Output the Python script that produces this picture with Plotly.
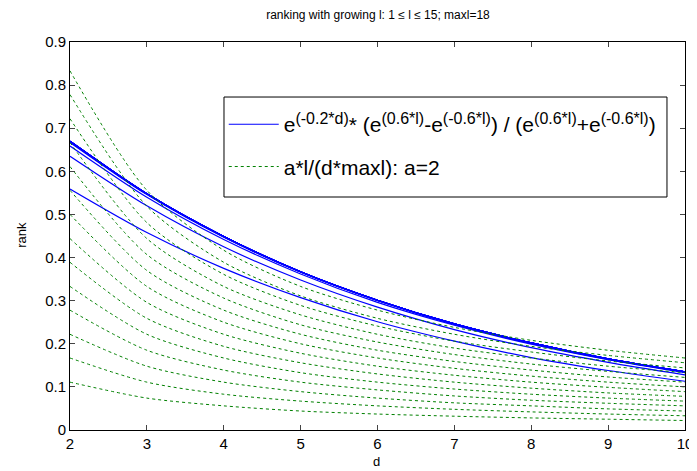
import plotly.graph_objects as go

d_values = [2, 3, 4, 5, 6, 7, 8, 9, 10]

# blue curves (solid), one list per l = 2..15 (l >= 6 are practically identical)
blue_l2 = [0.559, 0.458, 0.375, 0.307, 0.251, 0.206, 0.168, 0.138, 0.113]
blue_l3 = [0.635, 0.520, 0.425, 0.348, 0.285, 0.233, 0.191, 0.157, 0.128]
blue_l4 = [0.659, 0.540, 0.442, 0.362, 0.296, 0.243, 0.199, 0.163, 0.133]
blue_l5 = [0.667, 0.546, 0.447, 0.366, 0.300, 0.245, 0.201, 0.164, 0.135]
blue_l6_15 = [0.670, 0.548, 0.449, 0.367, 0.301, 0.246, 0.202, 0.165, 0.135]

# green curves (dashed), l = 2..15
green_l2 = [0.111, 0.074, 0.056, 0.044, 0.037, 0.032, 0.028, 0.025, 0.022]
green_l3 = [0.167, 0.111, 0.083, 0.067, 0.056, 0.048, 0.042, 0.037, 0.033]
green_l4 = [0.222, 0.148, 0.111, 0.089, 0.074, 0.063, 0.056, 0.049, 0.044]
green_l5 = [0.278, 0.185, 0.139, 0.111, 0.093, 0.079, 0.069, 0.062, 0.056]
green_l6 = [0.333, 0.222, 0.167, 0.133, 0.111, 0.095, 0.083, 0.074, 0.067]
green_l7 = [0.389, 0.259, 0.194, 0.156, 0.130, 0.111, 0.097, 0.086, 0.078]
green_l8 = [0.444, 0.296, 0.222, 0.178, 0.148, 0.127, 0.111, 0.099, 0.089]
green_l9 = [0.500, 0.333, 0.250, 0.200, 0.167, 0.143, 0.125, 0.111, 0.100]
green_l10 = [0.556, 0.370, 0.278, 0.222, 0.185, 0.159, 0.139, 0.123, 0.111]
green_l11 = [0.611, 0.407, 0.306, 0.244, 0.204, 0.175, 0.153, 0.136, 0.122]
green_l12 = [0.667, 0.444, 0.333, 0.267, 0.222, 0.190, 0.167, 0.148, 0.133]
green_l13 = [0.722, 0.481, 0.361, 0.289, 0.241, 0.206, 0.181, 0.160, 0.144]
green_l14 = [0.778, 0.519, 0.389, 0.311, 0.259, 0.222, 0.194, 0.173, 0.156]
green_l15 = [0.833, 0.556, 0.417, 0.333, 0.278, 0.238, 0.208, 0.185, 0.167]

blue_series = [blue_l2, blue_l3, blue_l4, blue_l5] + [blue_l6_15] * 10
green_series = [green_l2, green_l3, green_l4, green_l5, green_l6, green_l7, green_l8,
                green_l9, green_l10, green_l11, green_l12, green_l13, green_l14, green_l15]

x_ticks = [2, 3, 4, 5, 6, 7, 8, 9, 10]
y_ticks = [0, 0.1, 0.2, 0.3, 0.4, 0.5, 0.6, 0.7, 0.8, 0.9]
y_tick_text = ["0", "0.1", "0.2", "0.3", "0.4", "0.5", "0.6", "0.7", "0.8", "0.9"]


def sup(t):
    return '<sup><span style="font-size:16px">' + t + '</span></sup>'


blue_name = ("e" + sup("(-0.2*d)") + "* (e" + sup("(0.6*l)") + "-e" + sup("(-0.6*l)")
             + ") / (e" + sup("(0.6*l)") + "+e" + sup("(-0.6*l)") + ")")
green_name = "a*l/(d*maxl): a=2"

fig = go.Figure()
for i, ys in enumerate(blue_series):
    fig.add_trace(go.Scatter(x=d_values, y=ys, mode="lines",
                             line=dict(color="#0000ff", width=1.2, shape="spline", smoothing=0.8),
                             name=blue_name, legendgroup="blue",
                             showlegend=(i == 0), legendrank=1))
for i, ys in enumerate(green_series):
    fig.add_trace(go.Scatter(x=d_values, y=ys, mode="lines",
                             line=dict(color="#008000", width=1, dash="3px,3px",
                                       shape="spline", smoothing=0.8),
                             name=green_name, legendgroup="green",
                             showlegend=(i == 0), legendrank=2))

font_family = "Liberation Sans, Arial, sans-serif"
fig.update_layout(
    width=689, height=463,
    paper_bgcolor="white", plot_bgcolor="white",
    margin=dict(l=62, r=12, t=34, b=41),
    font=dict(family=font_family, size=13, color="black"),
    title=dict(text="ranking with growing l: 1 \u2264 l \u2264 15; maxl=18",
               x=0.537, xanchor="center", y=0.985, yanchor="middle",
               font=dict(size=12)),
    legend=dict(x=0.25, y=0.84, xanchor="left", yanchor="top",
                bgcolor="rgba(0,0,0,0)", borderwidth=0,
                font=dict(size=21), tracegroupgap=12, itemwidth=50),
    showlegend=True,
    shapes=[
        dict(type="rect", xref="paper", yref="paper",
             x0=0.2504, x1=0.9707, y0=0.6005, y1=0.8582,
             line=dict(color="black", width=1), fillcolor="white", layer="above"),
    ],
    annotations=[
        dict(text="rank", xref="paper", yref="paper", x=-0.078, y=0.503,
             xanchor="center", yanchor="middle", textangle=-90, showarrow=False,
             font=dict(size=13)),
        dict(text="d", xref="paper", yref="paper", x=0.499, y=-0.082,
             xanchor="center", yanchor="middle", showarrow=False,
             font=dict(size=13)),
    ],
)
fig.update_xaxes(range=[2, 10], tickvals=x_ticks, ticks="inside", ticklen=5,
                 showline=True, linecolor="black", linewidth=1, mirror="allticks",
                 showgrid=False, zeroline=False, tickfont=dict(size=15),
                 automargin=False)
fig.update_yaxes(range=[0, 0.9], tickvals=y_ticks, ticktext=y_tick_text,
                 ticks="inside", ticklen=5,
                 showline=True, linecolor="black", linewidth=1, mirror="allticks",
                 showgrid=False, zeroline=False, tickfont=dict(size=15),
                 automargin=False)

fig.write_html("out.html")
